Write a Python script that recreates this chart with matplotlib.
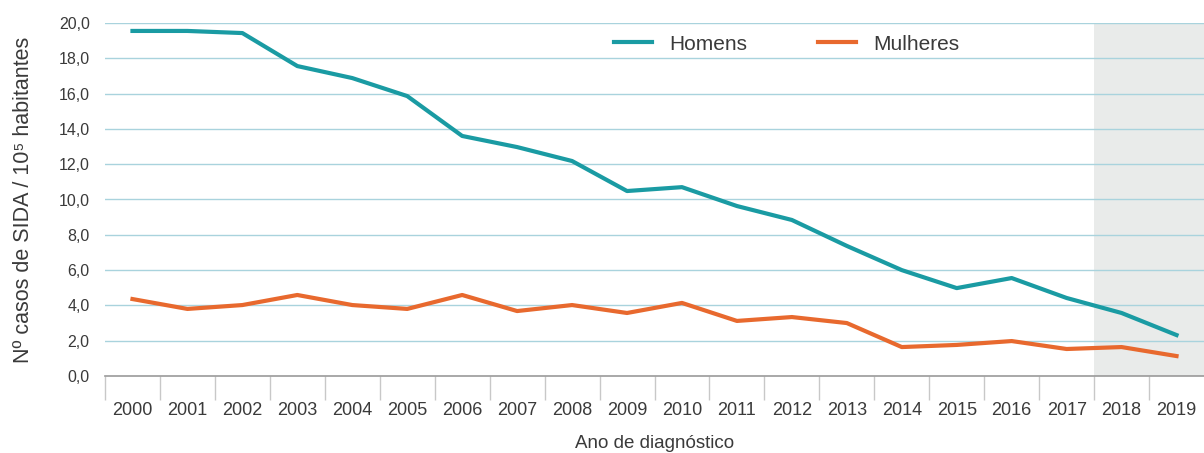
import numpy as np
import matplotlib
matplotlib.use("Agg")
import matplotlib.pyplot as plt

plt.rcParams['font.family'] = ['Liberation Sans', 'DejaVu Sans']

# data
anos = [str(a) for a in range(2000, 2020)]
homens = [19.55, 19.55, 19.43, 17.56, 16.88, 15.86, 13.6, 12.97, 12.18, 10.48,
          10.7, 9.63, 8.84, 7.37, 6.0, 4.98, 5.55, 4.42, 3.57, 2.32]
mulheres = [4.36, 3.8, 4.02, 4.59, 4.02, 3.8, 4.59, 3.68, 4.02, 3.57,
            4.14, 3.12, 3.34, 3.0, 1.64, 1.76, 1.98, 1.53, 1.64, 1.13]
y_ticks = [0, 2, 4, 6, 8, 10, 12, 14, 16, 18, 20]

teal = '#1a9ba3'
orange = '#e8692e'
txt = '#3a3a3a'

fig = plt.figure(figsize=(12.04, 4.53), dpi=100)
ax = fig.add_axes([105/1204, 1-376/453, 1-105/1204, (376-23)/453])

x = np.arange(len(anos))
ax.axvspan(17.5, 19.5, color='#e9ebea', zorder=0, lw=0)
for v in y_ticks[1:]:
    ax.axhline(v, color='#a9d3dd', lw=1, zorder=1)

ax.plot(x, homens, color=teal, lw=3, label='Homens', zorder=3)
ax.plot(x, mulheres, color=orange, lw=3, label='Mulheres', zorder=3)

ax.set_xlim(-0.5, 19.5)
ax.set_ylim(0, 20)
ax.set_yticks(y_ticks)
ax.set_yticklabels([('%.1f' % v).replace('.', ',') for v in y_ticks])
ax.tick_params(axis='y', length=0, pad=11, labelsize=11.5, labelcolor=txt)

ax.set_xticks(x)
ax.set_xticklabels(anos)
ax.set_xticks(np.arange(-0.5, 19, 1), minor=True)
ax.tick_params(axis='x', which='major', length=0, pad=19, labelsize=13, labelcolor=txt)
ax.tick_params(axis='x', which='minor', length=17, width=1, color='#c8c8c8')

for s in ['top', 'right', 'left']:
    ax.spines[s].set_visible(False)
ax.spines['bottom'].set_color('#999999')
ax.spines['bottom'].set_linewidth(1.2)

ax.set_ylabel('Nº casos de SIDA / 10⁵ habitantes', fontsize=15.5, color=txt, labelpad=18)
ax.set_xlabel('Ano de diagnóstico', fontsize=13.5, color=txt, labelpad=11)

ax.legend(loc='upper left', bbox_to_anchor=(0.446, 1.02), ncol=2, frameon=False,
          fontsize=15, handlelength=1.85, handletextpad=0.8, columnspacing=3.4,
          labelcolor=txt)

fig.savefig('out.png', dpi=100)
